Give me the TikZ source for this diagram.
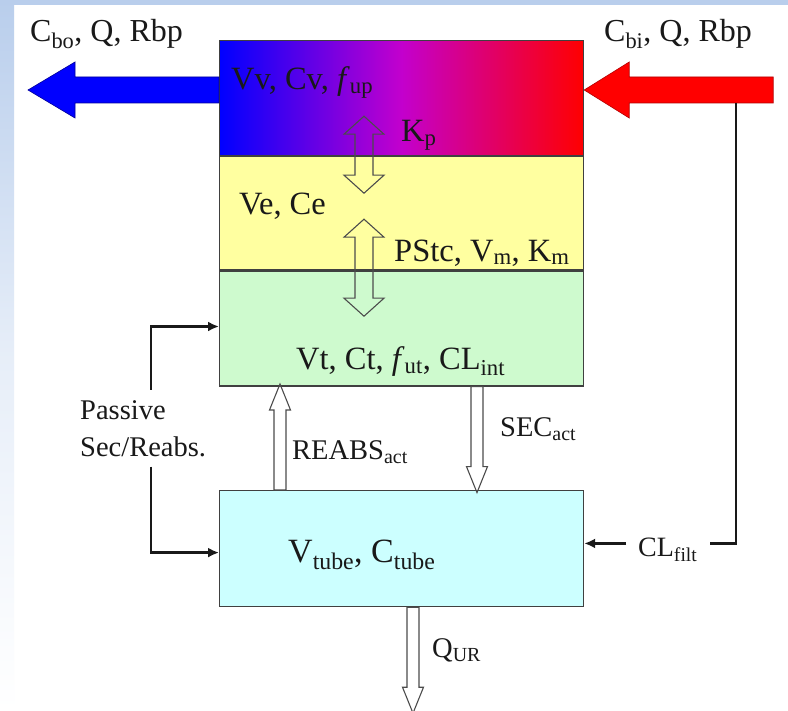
\documentclass[tikz,border=0pt]{standalone}
\usepackage{fontspec}
\setmainfont{Liberation Serif}
\usetikzlibrary{arrows.meta, positioning, calc}

\definecolor{bgblue}{RGB}{185,206,236}
\definecolor{plasmamid}{RGB}{195,0,205}
\definecolor{extrayellow}{RGB}{255,255,160}
\definecolor{tissuegreen}{RGB}{206,250,206}
\definecolor{tubecyan}{RGB}{204,255,255}

\tikzset{
    box/.style={draw=black!75, line width=1.2pt, minimum width=364pt, inner sep=0pt, anchor=north west},
    conn/.style={-{Latex[length=11pt,width=10pt]}, line width=2.4pt, black!90},
    hollow/.style={draw=black!70, line width=1.1pt},
    lbl/.style={font=\fontsize{32.5}{38}\selectfont, text=black!90, inner sep=0pt, anchor=base west},
    side/.style={font=\fontsize{28.5}{37}\selectfont, text=black!90, inner sep=0pt, anchor=base west}
}

% hollow block arrow: start point, direction (1 down, -1 up), length
\newcommand{\blockarrow}[3]{%
    \draw[hollow] ($#1+(-6,0)$) -- ++(0,{#2*(#3-26)}) -- ++(-4.5,0) -- ++(10.5,{#2*26})
        -- ++(10.5,{-(#2)*26}) -- ++(-4.5,0) -- ++(0,{-(#2)*(#3-26)}) -- cycle;}
% hollow double arrow: top tip, length
\newcommand{\doublearrow}[2]{%
    \draw[hollow] #1 -- ++(-20,18) -- ++(11,0) -- ++(0,{#2-36}) -- ++(-11,0) -- ++(20,18)
        -- ++(20,-18) -- ++(-11,0) -- ++(0,{36-#2}) -- ++(11,0) -- cycle;}

\begin{document}
\begin{tikzpicture}[x=1pt, y=-1pt]
    \useasboundingbox (0,0) rectangle (788,711);
    % slide background
    \fill[white] (0,0) rectangle (788,711);
    \shade[top color=bgblue, bottom color=white, middle color=bgblue!35] (0,0) rectangle (14,711);
    \fill[bgblue] (0,0) rectangle (788,5);

    % compartments
    \node[box, minimum height=115pt, left color=blue, right color=red, middle color=plasmamid] (vasc) at (219,40) {};
    \node[box, minimum height=113pt, fill=extrayellow] (extra) at (vasc.south west) {};
    \node[box, minimum height=115pt, fill=tissuegreen] (tissue) at (extra.south west) {};
    \node[box, minimum height=116pt, fill=tubecyan] (tube) at (219,490) {};

    % blood in / out
    \draw[fill=blue, draw=blue!60!black, line width=0.6pt] ($(vasc.north west)+(0,37)$) -- ++(-144,0) -- ++(0,-15)
        -- ++(-47,28) -- ++(47,28) -- ++(0,-15) -- ++(144,0) -- cycle;
    \draw[fill=red, draw=red!70!black, line width=0.6pt] ($(vasc.north east)+(0,50)$) -- ++(45,-28) -- ++(0,15)
        -- ++(144,0) -- ++(0,26) -- ++(-144,0) -- ++(0,15) -- cycle;
    \coordinate (cbi) at ($(vasc.north east)+(152,63)$);

    \node[lbl, font=\fontsize{32}{38}\selectfont] (cbo) at (30,42) {C\textsubscript{bo}, Q, Rbp};
    \node[lbl, font=\fontsize{32}{38}\selectfont] (cbilabel) at (604,42) {C\textsubscript{bi}, Q, Rbp};

    % labels inside the boxes
    \node[lbl] (vv) at ($(vasc.north west)+(12,50)$) {Vv, Cv, \textit{f}\textsubscript{up}};
    \node[lbl] (kp) at ($(vasc.north west)+(182,102)$) {K\textsubscript{p}};
    \node[lbl] (ve) at ($(extra.north west)+(20,58)$) {Ve, Ce};
    \node[lbl] (pstc) at ($(extra.north west)+(175,105)$) {PStc, V\textsubscript{m}, K\textsubscript{m}};
    \node[lbl] (vt) at ($(tissue.north west)+(77,99)$) {Vt, Ct, \textit{f}\textsubscript{ut}, CL\textsubscript{int}};
    \node[lbl, font=\fontsize{34}{40}\selectfont] (vtube) at ($(tube.north west)+(69,72)$) {V\textsubscript{tube}, C\textsubscript{tube}};

    % exchange between compartments
    \doublearrow{($(vasc.south west)+(145,-40)$)}{77}
    \doublearrow{($(extra.north west)+(145,63)$)}{97}
    \coordinate (secin) at ($(tissue.south west)+(258,0)$);
    \coordinate (reabsin) at ($(tube.north west)+(61,0)$);
    \coordinate (urine) at ($(tube.south west)+(194,0)$);
    \blockarrow{(secin)}{1}{106}
    \blockarrow{(reabsin)}{-1}{106}
    \blockarrow{(urine)}{1}{106}
    \node[side] (reabs) at (292,460) {REABS\textsubscript{act}};
    \node[side] (sec) at (500,437) {SEC\textsubscript{act}};
    \node[side] (qur) at (432,657) {Q\textsubscript{UR}};

    % passive and filtration
    \node[side, align=left, inner ysep=10pt, anchor=north west] (passive) at (80,390) {Passive\\Sec/Reabs.};
    \draw[conn] ([xshift=8pt]passive.north) |- ([yshift=2pt]tissue.west);
    \draw[conn] ([xshift=8pt]passive.south) |- ([yshift=-4pt]tube.west);
    \node[side, font=\fontsize{28}{33}\selectfont, inner xsep=12pt] (clfilt) at (626,556) {CL\textsubscript{filt}};
    \draw[line width=2.4pt, black!90] (cbi) |- ([yshift=6pt]clfilt.east);
    \draw[conn] ([yshift=6pt]clfilt.west) -- ([yshift=6pt]clfilt.west -| tube.east);
\end{tikzpicture}
\end{document}
